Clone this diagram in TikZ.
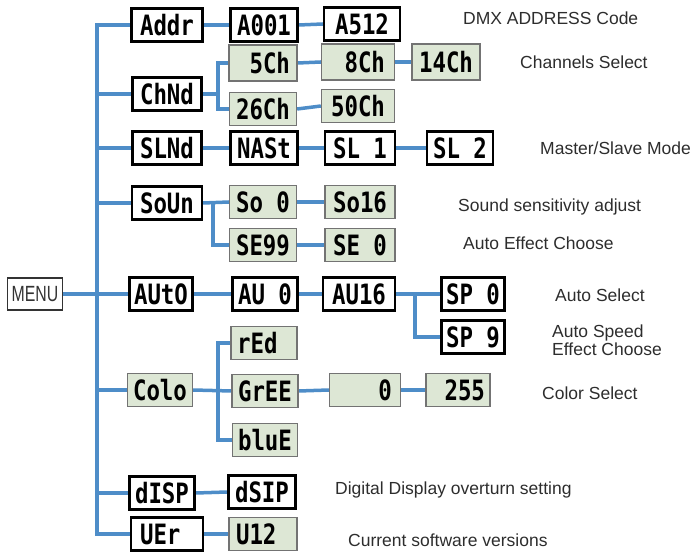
\documentclass[tikz,border=0pt]{standalone}
\usepackage{fontspec}
\setmainfont{Liberation Sans}
\newfontfamily\segfont[FakeStretch=0.8]{DejaVu Sans Mono}
\newfontfamily\menufont[FakeStretch=0.72]{Liberation Sans}
\usetikzlibrary{backgrounds}
\definecolor{lineblue}{RGB}{78,141,200}
\definecolor{lcdgreen}{RGB}{221,231,213}
\definecolor{labelgray}{RGB}{45,45,45}
\newcommand{\blk}{\hphantom{0}}
\tikzset{
  conn/.style={draw=lineblue, line width=3.5pt},
  lcd/.style={draw=black, line width=2.2pt, fill=white, minimum height=33pt,
    inner sep=0pt, font=\segfont\bfseries\fontsize{28}{28}\selectfont},
  lcdg/.style={lcd, draw=black!55, line width=1.3pt, fill=lcdgreen},
  lbl/.style={anchor=west, text=labelgray, inner sep=0pt, font=\fontsize{17.5}{18}\selectfont},
  menubox/.style={draw=black!80, line width=1.3pt, fill=white, minimum width=55pt,
    minimum height=32pt, inner sep=0pt, text=black!80, font=\menufont\fontsize{22}{22}\selectfont},
}
\begin{document}
\begin{tikzpicture}[x=1pt,y=-1pt]
\useasboundingbox (0,0) rectangle (694,553);
% menu
\node[menubox] (MENU) at (35,294) {MENU};
% column 1
\node[lcd,  minimum width=71pt] (Addr) at (167,25)  {Addr};
\node[lcd,  minimum width=69pt] (ChNd) at (167,94)  {ChNd};
\node[lcd,  minimum width=69pt] (SLNd) at (167,148) {SLNd};
\node[lcd,  minimum width=70pt] (SoUn) at (167,203) {SoUn};
\node[lcd,  minimum width=63pt] (AUtO) at (161,294) {AUtO};
\node[lcdg, minimum width=65pt] (CoLo) at (160,390) {Colo};
\node[lcd,  minimum width=65pt] (dISP) at (162,493) {dISP};
\node[lcd,  minimum width=72pt] (UEr)  at (167,534) {UEr\blk};
% column 2
\node[lcd,  minimum width=67pt] (A001) at (264,25)  {A001};
\node[lcdg, minimum width=68pt, minimum height=36pt] (C5) at (263,63) {\blk 5Ch};
\node[lcdg, minimum width=67pt] (C26)  at (263,109) {26Ch};
\node[lcd,  minimum width=67pt] (NASt) at (264,148) {NASt};
\node[lcdg, minimum width=67pt] (So0)  at (263,202) {So\blk 0};
\node[lcdg, minimum width=67pt] (SE99) at (263,245) {SE99};
\node[lcd,  minimum width=65pt] (AU0)  at (265,294) {AU\blk 0};
\node[lcdg, minimum width=66pt] (rEd)  at (264,343) {rEd\blk};
\node[lcdg, minimum width=66pt] (GrEE) at (265,391) {GrEE};
\node[lcdg, minimum width=65pt] (bLUE) at (265,440) {bluE};
\node[lcd,  minimum width=67pt] (dSIP) at (262,492) {dSIP};
\node[lcdg, minimum width=68pt] (U12)  at (263,534) {U12\blk};
% column 3
\node[lcd,  minimum width=76pt] (A512) at (362,24)  {A512};
\node[lcdg, minimum width=73pt, minimum height=36pt] (C8) at (358,62) {\blk 8Ch};
\node[lcdg, minimum width=73pt] (C50)  at (358,106) {50Ch};
\node[lcd,  minimum width=70pt] (SL1)  at (360,148) {SL\blk 1};
\node[lcdg, minimum width=70pt] (So16) at (360,202) {So16};
\node[lcdg, minimum width=70pt] (SE0)  at (360,245) {SE\blk 0};
\node[lcd,  minimum width=72pt] (AU16) at (359,294) {AU16};
\node[lcdg, minimum width=71pt] (Z0)   at (365,390) {\blk\blk\blk 0};
% column 4
\node[lcdg, minimum width=68pt, minimum height=36pt] (C14) at (446,62) {14Ch};
\node[lcd,  minimum width=66pt] (SL2)  at (460,148) {SL\blk 2};
\node[lcd,  minimum width=63pt] (SP0)  at (473,294) {SP\blk 0};
\node[lcd,  minimum width=63pt] (SP9)  at (473,337) {SP\blk 9};
\node[lcdg, minimum width=64pt] (V255) at (458,390) {\blk 255};
% labels
\node[lbl] (t1) at (463,18)  {DMX ADDRESS Code};
\node[lbl] (t2) at (520,62)  {Channels Select};
\node[lbl] (t3) at (540,148) {Master/Slave Mode};
\node[lbl] (t4) at (458,207) {Sound sensitivity adjust};
\node[lbl] (t5) at (463,243) {Auto Effect Choose};
\node[lbl] (t6) at (555,295) {Auto Select};
\node[lbl, align=left] (t7) at (552,340) {Auto Speed\\Effect Choose};
\node[lbl] (t8) at (542,393) {Color Select};
\node[lbl] (t9) at (335,490) {Digital Display overturn setting};
\node[lbl] (t10) at (348,540) {Current software versions};
% connectors
\coordinate (tt) at (97,25);
\coordinate (cb) at (218,94);
\coordinate (sb) at (213,202);
\coordinate (ab) at (415,294);
\coordinate (cl) at (218,390);
\begin{scope}[on background layer]
\draw[conn] (Addr.west) -- (tt) -- (tt |- UEr.west) -- (UEr.west);
\draw[conn] (MENU.east) -- (AUtO.west);
\foreach \n in {ChNd,SLNd,SoUn,CoLo,dISP} \draw[conn] (\n.west) -- (\n.west -| tt);
\draw[conn] (Addr.east) -- (A001.west);
\draw[conn] (A001.east) -- (A512.west);
\draw[conn] (ChNd.east) -- (cb);
\draw[conn] (C5.west) -| (cb) |- (C26.west);
\draw[conn] (C5.east) -- (C8.west);
\draw[conn] (C8.east) -- (C14.west);
\draw[conn] (C26.east) -- (C50.west);
\draw[conn] (SLNd.east) -- (NASt.west);
\draw[conn] (NASt.east) -- (SL1.west);
\draw[conn] (SL1.east) -- (SL2.west);
\draw[conn] (SoUn.east) -- (So0.west);
\draw[conn] (sb) |- (SE99.west);
\draw[conn] (So0.east) -- (So16.west);
\draw[conn] (SE99.east) -- (SE0.west);
\draw[conn] (AUtO.east) -- (AU0.west);
\draw[conn] (AU0.east) -- (AU16.west);
\draw[conn] (AU16.east) -- (SP0.west);
\draw[conn] (ab) |- (SP9.west);
\draw[conn] (CoLo.east) -- (GrEE.west);
\draw[conn] (rEd.west) -| (cl) |- (bLUE.west);
\draw[conn] (GrEE.east) -- (Z0.west);
\draw[conn] (Z0.east) -- (V255.west);
\draw[conn] (dISP.east) -- (dSIP.west);
\draw[conn] (UEr.east) -- (U12.west);
\end{scope}
\end{tikzpicture}
\end{document}
